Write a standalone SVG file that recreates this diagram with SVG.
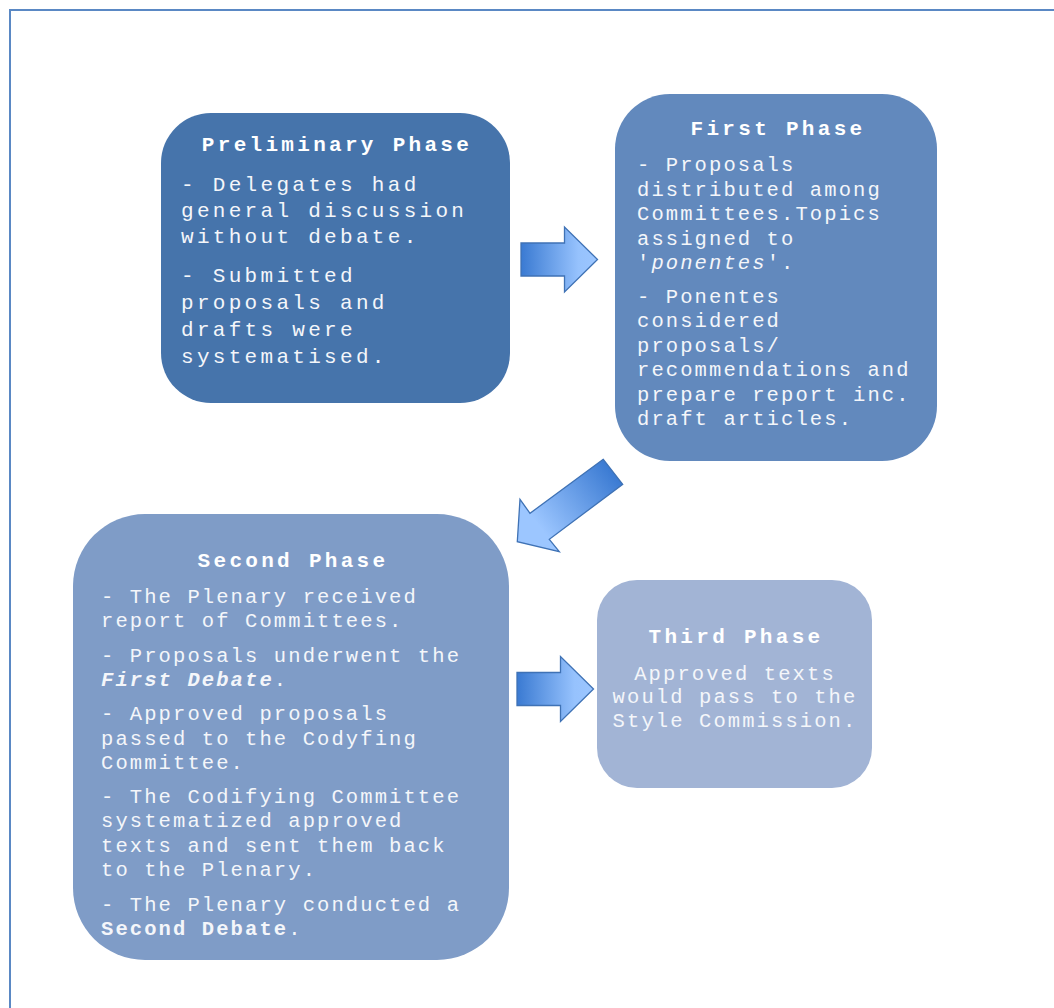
<svg xmlns="http://www.w3.org/2000/svg" width="1054" height="1008" viewBox="0 0 1054 1008">
  <style>
    .title { font-family: "Liberation Mono", "Courier New", monospace; font-weight: bold; font-size: 21px; letter-spacing: 3.3px; fill: #ffffff; text-anchor: middle; }
    .body { font-family: "Liberation Mono", "Courier New", monospace; font-size: 20.5px; letter-spacing: 2.1px; fill: #f4f6fa; }
    .body-lg { font-family: "Liberation Mono", "Courier New", monospace; font-size: 21px; letter-spacing: 3.3px; fill: #f4f6fa; }
    .arrow { stroke: #3f72b5; stroke-width: 1.3; stroke-linejoin: miter; }
  </style>
  <defs>
    <linearGradient id="arrowFill" x1="0" y1="0" x2="1" y2="0">
      <stop offset="0" stop-color="#3a7ad2"/>
      <stop offset="0.75" stop-color="#96c2fd"/>
      <stop offset="1" stop-color="#9cc6ff"/>
    </linearGradient>
    <linearGradient id="arrowFillDiag" gradientUnits="userSpaceOnUse" x1="613" y1="471" x2="540" y2="527">
      <stop offset="0" stop-color="#3a7ad2"/>
      <stop offset="1" stop-color="#9cc6ff"/>
    </linearGradient>
  </defs>

  <rect width="1054" height="1008" fill="#ffffff"/>
  <!-- page frame -->
  <rect x="10" y="10" width="1100" height="1100" fill="none" stroke="#5a88c4" stroke-width="2"/>

  <!-- Preliminary Phase -->
  <g id="preliminary-phase">
    <rect x="161" y="113" width="349" height="290" rx="50" ry="50" fill="#4674ab"/>
    <text class="title" x="337" y="151">Preliminary Phase</text>
    <text class="body-lg" x="181" y="191">- Delegates had</text>
    <text class="body-lg" x="181" y="217">general discussion</text>
    <text class="body-lg" x="181" y="243">without debate.</text>
    <text class="body-lg" x="181" y="282">- Submitted</text>
    <text class="body-lg" x="181" y="309">proposals and</text>
    <text class="body-lg" x="181" y="336">drafts were</text>
    <text class="body-lg" x="181" y="363">systematised.</text>
  </g>

  <!-- First Phase -->
  <g id="first-phase">
    <rect x="615" y="94" width="322" height="367" rx="55" ry="55" fill="#6289bd"/>
    <text class="title" x="778" y="135">First Phase</text>
    <text class="body" x="637" y="171">- Proposals</text>
    <text class="body" x="637" y="196">distributed among</text>
    <text class="body" x="637" y="220">Committees.Topics</text>
    <text class="body" x="637" y="245">assigned to</text>
    <text class="body" x="637" y="269">'<tspan font-style="italic">ponentes</tspan>'.</text>
    <text class="body" x="637" y="303">- Ponentes</text>
    <text class="body" x="637" y="327">considered</text>
    <text class="body" x="637" y="352">proposals/</text>
    <text class="body" x="637" y="376">recommendations and</text>
    <text class="body" x="637" y="401">prepare report inc.</text>
    <text class="body" x="637" y="425">draft articles.</text>
  </g>

  <!-- Second Phase -->
  <g id="second-phase">
    <rect x="73" y="514" width="436" height="446" rx="72" ry="72" fill="#7f9cc7"/>
    <text class="title" x="293" y="567">Second Phase</text>
    <text class="body" x="101" y="603">- The Plenary received</text>
    <text class="body" x="101" y="627">report of Committees.</text>
    <text class="body" x="101" y="662">- Proposals underwent the</text>
    <text class="body" x="101" y="686"><tspan font-weight="bold" font-style="italic">First Debate</tspan>.</text>
    <text class="body" x="101" y="720">- Approved proposals</text>
    <text class="body" x="101" y="745">passed to the Codyfing</text>
    <text class="body" x="101" y="769">Committee.</text>
    <text class="body" x="101" y="803">- The Codifying Committee</text>
    <text class="body" x="101" y="827">systematized approved</text>
    <text class="body" x="101" y="852">texts and sent them back</text>
    <text class="body" x="101" y="876">to the Plenary.</text>
    <text class="body" x="101" y="911">- The Plenary conducted a</text>
    <text class="body" x="101" y="935"><tspan font-weight="bold">Second Debate</tspan>.</text>
  </g>

  <!-- Third Phase -->
  <g id="third-phase">
    <rect x="597" y="580" width="275" height="208" rx="40" ry="40" fill="#a2b4d5"/>
    <text class="title" x="736" y="643">Third Phase</text>
    <text class="body" x="735" y="680" text-anchor="middle" fill="#eef2f8">Approved texts</text>
    <text class="body" x="735" y="703" text-anchor="middle" fill="#eef2f8">would pass to the</text>
    <text class="body" x="735" y="727" text-anchor="middle" fill="#eef2f8">Style Commission.</text>
  </g>

  <!-- block arrows between phases -->
  <g id="connectors">
    <polygon class="arrow" fill="url(#arrowFill)" points="521,243 564.5,243 564.5,227 597.5,259.5 564.5,292 564.5,276 521,276"/>
    <polygon class="arrow" fill="url(#arrowFillDiag)" points="603.3,459.3 530,513.3 520,499.3 517.3,541.7 559.3,551.7 549.3,539.3 622.7,484.3"/>
    <polygon class="arrow" fill="url(#arrowFill)" points="517,672.5 560.5,672.5 560.5,656.5 593.5,689 560.5,721.5 560.5,705.5 517,705.5"/>
  </g>
</svg>
